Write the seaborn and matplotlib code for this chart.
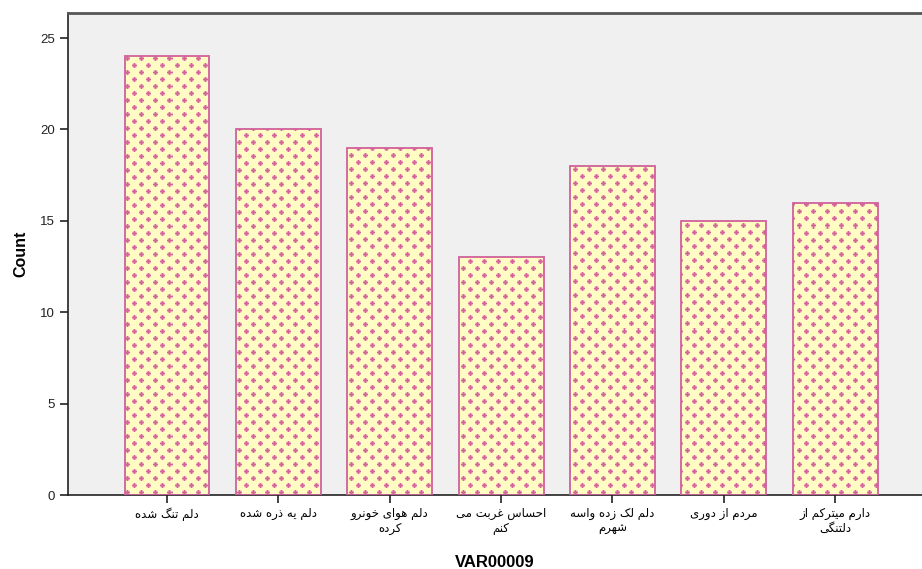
import numpy as np
import pandas as pd
import matplotlib
matplotlib.use('Agg')
import matplotlib.pyplot as plt
import seaborn as sns

# داده‌ها
categories = ['دلم تنگ شده', 'دلم یه ذره شده', 'دلم هوای خونرو\nکرده', 'احساس غربت می\nکنم',
              'دلم لک زده واسه\nشهرم', 'مردم از دوری', 'دارم میترکم از\nدلتنگی']
counts = [24, 20, 19, 13, 18, 15, 16]
y_ticks = [0, 5, 10, 15, 20, 25]

# حروف فارسی: (تنها، پایانی، آغازی، میانی)
FORMS = {
    'ا': ('\uFE8D', '\uFE8E', None, None),
    'ب': ('\uFE8F', '\uFE90', '\uFE91', '\uFE92'),
    'ت': ('\uFE95', '\uFE96', '\uFE97', '\uFE98'),
    'ح': ('\uFEA1', '\uFEA2', '\uFEA3', '\uFEA4'),
    'خ': ('\uFEA5', '\uFEA6', '\uFEA7', '\uFEA8'),
    'د': ('\uFEA9', '\uFEAA', None, None),
    'ذ': ('\uFEAB', '\uFEAC', None, None),
    'ر': ('\uFEAD', '\uFEAE', None, None),
    'ز': ('\uFEAF', '\uFEB0', None, None),
    'س': ('\uFEB1', '\uFEB2', '\uFEB3', '\uFEB4'),
    'ش': ('\uFEB5', '\uFEB6', '\uFEB7', '\uFEB8'),
    'غ': ('\uFECD', '\uFECE', '\uFECF', '\uFED0'),
    'ک': ('\uFB8E', '\uFB8F', '\uFB90', '\uFB91'),
    'گ': ('\uFB92', '\uFB93', '\uFB94', '\uFB95'),
    'ل': ('\uFEDD', '\uFEDE', '\uFEDF', '\uFEE0'),
    'م': ('\uFEE1', '\uFEE2', '\uFEE3', '\uFEE4'),
    'ن': ('\uFEE5', '\uFEE6', '\uFEE7', '\uFEE8'),
    'ه': ('\uFEE9', '\uFEEA', '\uFEEB', '\uFEEC'),
    'و': ('\uFEED', '\uFEEE', None, None),
    'ی': ('\uFBFC', '\uFBFD', '\uFBFE', '\uFBFF'),
}


def shape_line(line):
    out = []
    for i, ch in enumerate(line):
        if ch not in FORMS:
            out.append(ch)
            continue
        prev = line[i - 1] if i > 0 else ''
        nxt = line[i + 1] if i + 1 < len(line) else ''
        join_prev = prev in FORMS and FORMS[prev][2] is not None
        join_next = nxt in FORMS and FORMS[ch][2] is not None
        iso, fin, ini, med = FORMS[ch]
        if join_prev and join_next:
            out.append(med)
        elif join_prev:
            out.append(fin)
        elif join_next:
            out.append(ini)
        else:
            out.append(iso)
    return ''.join(reversed(out))


def shape(text):
    return '\n'.join(shape_line(l) for l in text.split('\n'))


plt.rcParams['font.family'] = ['Liberation Sans', 'DejaVu Sans']

df = pd.DataFrame({'VAR00009': categories, 'Count': counts})

W, H = 922, 569
fig = plt.figure(figsize=(W / 100, H / 100), dpi=100)
ax_l, ax_t, ax_r, ax_b = 68, 13, 922, 495
ax = fig.add_axes([ax_l / W, 1 - ax_b / H, (ax_r - ax_l) / W, (ax_b - ax_t) / H])
ax.set_facecolor('#f0f0f0')

edge = '#d0609a'
sns.barplot(data=df, x='VAR00009', y='Count', order=categories, width=0.763,
            color='#fffdc8', edgecolor=edge, linewidth=1.3, ax=ax, zorder=3)

xlim = (-0.889, 6.78)
ylim = (0, 26.37)
ax.set_xlim(*xlim)
ax.set_ylim(*ylim)

# بافت بعلاوه‌ها
pw, ph = ax_r - ax_l, ax_b - ax_t
yellow = np.array([255, 252, 196]) / 255
pink = np.array([212, 100, 155]) / 255
tile = np.zeros((14, 14))
for cx, cy in [(3, 3), (10, 10)]:
    for dx in range(-2, 3):
        for dy in range(-2, 3):
            if dx == 0 or dy == 0:
                v = 1.0
            elif abs(dx) == 1 and abs(dy) == 1:
                v = 0.8
            elif abs(dx) + abs(dy) == 3:
                v = 0.4
            else:
                v = 0.1
            tile[(cy + dy) % 14, (cx + dx) % 14] = v
mask = np.tile(tile, (ph // 14 + 1, pw // 14 + 1))[:ph, :pw]
tex = yellow[None, None, :] * (1 - mask[..., None]) + pink[None, None, :] * mask[..., None]

bars = list(ax.patches)
for p in bars:
    p.set_facecolor('none')
    p.set_zorder(3)
    im = ax.imshow(tex, extent=(xlim[0], xlim[1], ylim[0], ylim[1]), aspect='auto',
                   interpolation='nearest', origin='upper', zorder=2)
    im.set_clip_path(p)

ax.set_xlim(*xlim)
ax.set_ylim(*ylim)

ax.set_yticks(y_ticks)
ax.set_yticklabels([str(v) for v in y_ticks], fontsize=9.5, color='#222222')
ax.set_xticks(range(len(categories)))
ax.set_xticklabels([shape(c) for c in categories], fontsize=8.5, family=['DejaVu Sans'],
                   linespacing=1.15, color='#000000')
ax.tick_params(axis='both', direction='out', length=6, width=1.2, color='#222222')
ax.tick_params(axis='x', pad=3)

for s in ['left', 'bottom']:
    ax.spines[s].set_color('#222222')
    ax.spines[s].set_linewidth(1.2)
ax.spines['top'].set_color('#555555')
ax.spines['top'].set_linewidth(2)
ax.spines['right'].set_visible(False)

ax.set_ylabel('Count', fontsize=11.5, fontweight='bold', labelpad=8)
ax.set_xlabel('VAR00009', fontsize=12, fontweight='bold')
ax.xaxis.set_label_coords((495 - ax_l) / pw, -(555 - ax_b) / ph)

fig.savefig('out.png', dpi=100)
